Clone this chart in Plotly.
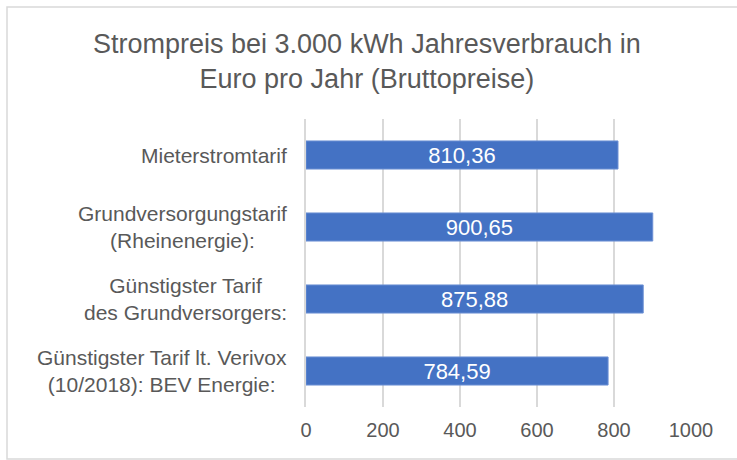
import plotly.graph_objects as go

categories = [
    "Mieterstromtarif",
    "Grundversorgungstarif<br>(Rheinenergie):",
    "Günstigster Tarif<br>des Grundversorgers:",
    "Günstigster Tarif lt. Verivox<br>(10/2018): BEV Energie:",
]
values = [810.36, 900.65, 875.88, 784.59]
x_ticks = [0, 200, 400, 600, 800, 1000]
title_text = "Strompreis bei 3.000 kWh Jahresverbrauch in<br>Euro pro Jahr (Bruttopreise)"

FONT = "Liberation Sans, Arial, sans-serif"
GRAY = "#595959"

W, H = 737, 460
ML, MR, MT, MB = 306, 46, 119, 53
PW, PH = W - ML - MR, H - MT - MB

def px_x(p):
    return (p - ML) / PW

def px_y(p):
    return (H - MB - p) / PH

fig = go.Figure()
fig.add_trace(go.Bar(
    x=values,
    y=categories,
    orientation="h",
    marker=dict(color="#4472C4", line=dict(color="#6B8FD4", width=1)),
    text=values,
    texttemplate="%{x:.2f}",
    textposition="inside",
    insidetextanchor="middle",
    constraintext="none",
    textfont=dict(family=FONT, size=22, color="white"),
    hoverinfo="skip",
))

annotations = [dict(
    x=px_x(367), xref="paper", y=px_y(61), yref="paper",
    text=title_text, showarrow=False, xanchor="center", yanchor="middle",
    align="center", font=dict(family=FONT, size=27, color=GRAY),
)]
for c in categories:
    annotations.append(dict(
        x=px_x(289), xref="paper", y=c, yref="y",
        text=c, showarrow=False, xanchor="right", yanchor="middle",
        align="center", font=dict(family=FONT, size=21, color=GRAY),
    ))

fig.update_layout(
    width=W, height=H,
    margin=dict(l=ML, r=MR, t=MT, b=MB, pad=0),
    paper_bgcolor="white", plot_bgcolor="white",
    separators=",.",
    bargap=0.61,
    showlegend=False,
    xaxis=dict(
        range=[0, 1000], tickvals=x_ticks, showgrid=True,
        gridcolor="#D9D9D9", gridwidth=1.5, zeroline=False,
        showline=False, ticks="", ticklabelstandoff=9,
        tickfont=dict(family=FONT, size=20, color=GRAY),
        fixedrange=True,
    ),
    yaxis=dict(
        categoryorder="array", categoryarray=categories,
        autorange="reversed", showticklabels=False, showgrid=False,
        showline=True, linecolor="#D9D9D9", linewidth=1.5,
        ticks="", fixedrange=True,
    ),
    annotations=annotations,
    shapes=[dict(
        type="rect", xref="paper", yref="paper",
        x0=px_x(7), x1=px_x(770), y0=px_y(459), y1=px_y(7),
        line=dict(color="#D9D9D9", width=1.5), layer="below",
    )],
)

fig.write_html(
    "out.html",
    config={"displayModeBar": False},
    post_script="document.body.style.margin='0';document.body.style.padding='0';",
)
